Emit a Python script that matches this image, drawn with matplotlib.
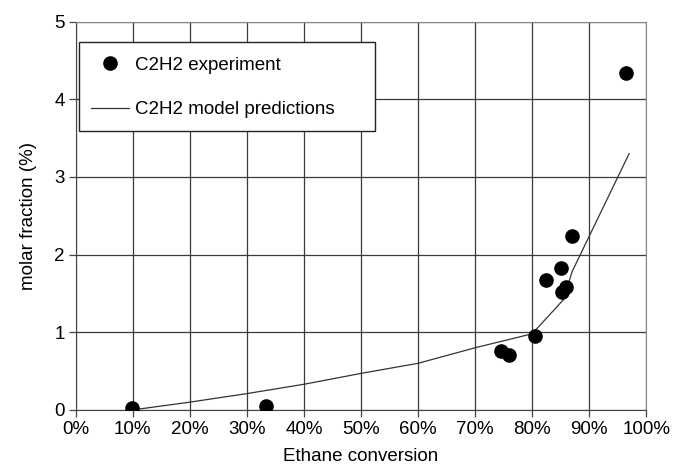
import matplotlib
matplotlib.use("Agg")
import matplotlib.pyplot as plt
from matplotlib.patches import Rectangle
from matplotlib.lines import Line2D
from matplotlib.ticker import PercentFormatter

plt.rcParams['font.family'] = ['Liberation Sans', 'DejaVu Sans']

# experimental points (ethane conversion %, molar fraction %)
exp_x = [9.8, 33.4, 74.6, 76.0, 80.5, 82.5, 85.0, 85.3, 86.0, 87.0, 96.4]
exp_y = [0.02, 0.05, 0.76, 0.71, 0.95, 1.67, 1.83, 1.52, 1.58, 2.24, 4.34]

# model predictions
mod_x = [10, 20, 30, 40, 50, 60, 70, 80, 85.5, 87, 97]
mod_y = [0.0, 0.10, 0.21, 0.33, 0.47, 0.60, 0.80, 0.98, 1.42, 1.78, 3.30]

fig = plt.figure(figsize=(6.76, 4.69), dpi=100)
ax = fig.add_axes([0.112, 0.126, 0.844, 0.828])

ax.plot(mod_x, mod_y, color='#333333', linewidth=0.9, zorder=3)
ax.plot(exp_x, exp_y, 'o', color='black', markersize=9.5, zorder=4)

ax.set_xlim(0, 100)
ax.set_ylim(0, 5)
ax.set_xticks(range(0, 101, 10))
ax.set_yticks(range(0, 6))
ax.xaxis.set_major_formatter(PercentFormatter(decimals=0))
ax.grid(True, color='#3a3a3a', linewidth=0.9)
ax.set_axisbelow(True)
for s in ['top', 'right']:
    ax.spines[s].set_color('#888888')
for s in ['left', 'bottom']:
    ax.spines[s].set_color('#444444')
ax.tick_params(direction='out', length=5, width=0.9, color='#444444',
               labelsize=13.5, pad=3)

ax.set_xlabel('Ethane conversion', fontsize=13.5, labelpad=7)
ax.set_ylabel('molar fraction (%)', fontsize=13.5, labelpad=12)

# legend box
ax.add_patch(Rectangle((0.006, 0.718), 0.519, 0.229, transform=ax.transAxes,
                       facecolor='white', edgecolor='#222222', linewidth=1.0, zorder=5))
handles = [Line2D([], [], marker='o', color='black', linestyle='none', markersize=9.5),
           Line2D([], [], color='#333333', linewidth=0.9)]
leg = ax.legend(handles, ['C2H2 experiment', 'C2H2 model predictions'],
                frameon=False, loc='center left', bbox_to_anchor=(0.027, 0.83),
                fontsize=13.5, handlelength=2.0, handletextpad=0.35,
                labelspacing=1.45, borderpad=0, borderaxespad=0)
leg.set_zorder(6)

fig.savefig('out.png', dpi=100)
